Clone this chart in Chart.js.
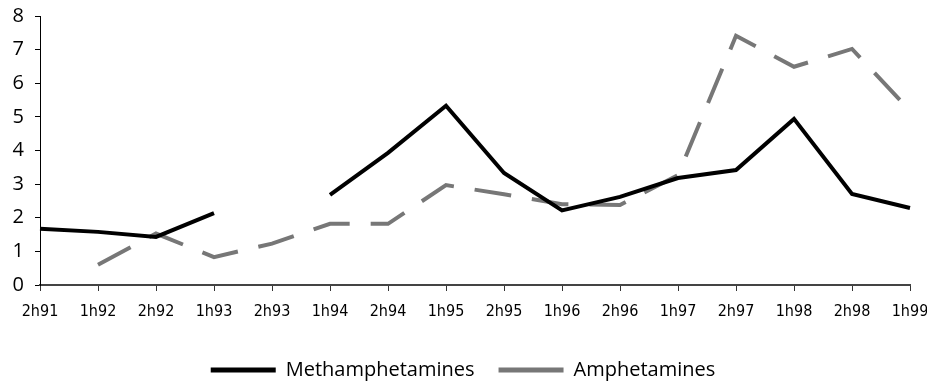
<!DOCTYPE html>
<html>
<head>
<meta charset="utf-8">
<script src="https://cdn.jsdelivr.net/npm/chart.js@4/dist/chart.umd.min.js"></script>
<style>
  html, body { margin: 0; padding: 0; background: #fff; }
  #wrap { width: 927px; height: 385px; position: relative; }
</style>
</head>
<body>
<div id="wrap"><canvas id="c" width="927" height="385"></canvas></div>
<script>
const categories = ['2h91','1h92','2h92','1h93','2h93','1h94','2h94','1h95','2h95','1h96','2h96','1h97','2h97','1h98','2h98','1h99'];
const methamphetamines = [1.67, 1.58, 1.43, 2.14, null, 2.68, 3.93, 5.33, 3.33, 2.22, 2.62, 3.18, 3.42, 4.94, 2.71, 2.29];
const amphetamines = [null, 0.6, 1.53, 0.83, 1.23, 1.82, 1.82, 2.97, 2.7, 2.4, 2.38, 3.27, 7.41, 6.49, 7.02, 5.18];
const yTicks = [0, 1, 2, 3, 4, 5, 6, 7, 8];

const legendHeightFix = {
  id: 'legendHeightFix',
  afterInit(chart) {
    const lg = chart.legend;
    if (!lg) return;
    const origFit = lg.fit;
    lg.fit = function () { origFit.call(this); this.height = 49; };
    const origDraw = lg.draw;
    lg.draw = function () {
      const c = this.ctx;
      c.save();
      c.translate(8, 0);
      origDraw.call(this);
      c.restore();
    };
  }
};

const ctx = document.getElementById('c');
new Chart(ctx, {
  type: 'line',
  plugins: [legendHeightFix],
  data: {
    labels: categories,
    datasets: [
      {
        label: 'Methamphetamines',
        data: methamphetamines,
        borderColor: '#000000',
        backgroundColor: '#000000',
        borderWidth: 4,
        pointRadius: 0,
        tension: 0,
        spanGaps: false
      },
      {
        label: 'Amphetamines',
        data: amphetamines,
        borderColor: '#777777',
        backgroundColor: '#777777',
        borderWidth: 4,
        borderDash: [37, 21],
        borderCapStyle: 'butt',
        pointRadius: 0,
        tension: 0,
        spanGaps: false
      }
    ]
  },
  options: {
    responsive: false,
    animation: false,
    layout: { padding: { top: 16, right: 17, left: 0, bottom: 0 } },
    plugins: {
      tooltip: { enabled: false },
      legend: {
        position: 'bottom',
        labels: {
          boxWidth: 65,
          boxHeight: 5,
          padding: 24,
          color: '#000',
          font: { family: 'Open Sans', size: 20 },
          generateLabels(chart) {
            return chart.data.datasets.map((ds, i) => ({
              text: ds.label,
              fillStyle: ds.borderColor,
              strokeStyle: ds.borderColor,
              lineWidth: 0,
              lineDash: [],
              hidden: false,
              datasetIndex: i,
              fontColor: '#000'
            }));
          }
        }
      }
    },
    scales: {
      x: {
        type: 'category',
        offset: false,
        grid: { display: true, drawOnChartArea: false, drawTicks: true, tickLength: 6, color: '#333', lineWidth: 1 },
        border: { display: true, color: '#444', width: 2 },
        ticks: {
          autoSkip: false,
          maxRotation: 0,
          padding: 11,
          color: '#000',
          font: { family: 'DejaVu Sans Condensed', size: 16 }
        },
        afterFit(scale) { scale.height = 51; scale.paddingLeft = 0; scale.paddingRight = 0; }
      },
      y: {
        min: 0,
        max: 8,
        afterBuildTicks(scale) { scale.ticks = yTicks.map(v => ({ value: v })); },
        grid: { display: true, drawOnChartArea: false, drawTicks: true, tickLength: 5, color: '#000', lineWidth: 1 },
        border: { display: true, color: '#000', width: 1 },
        ticks: {
          padding: 11,
          color: '#000',
          font: { family: 'Open Sans', size: 20 }
        },
        afterFit(scale) { scale.width = 40; scale.paddingTop = 0; scale.paddingBottom = 0; }
      }
    }
  }
});
</script>
</body>
</html>
